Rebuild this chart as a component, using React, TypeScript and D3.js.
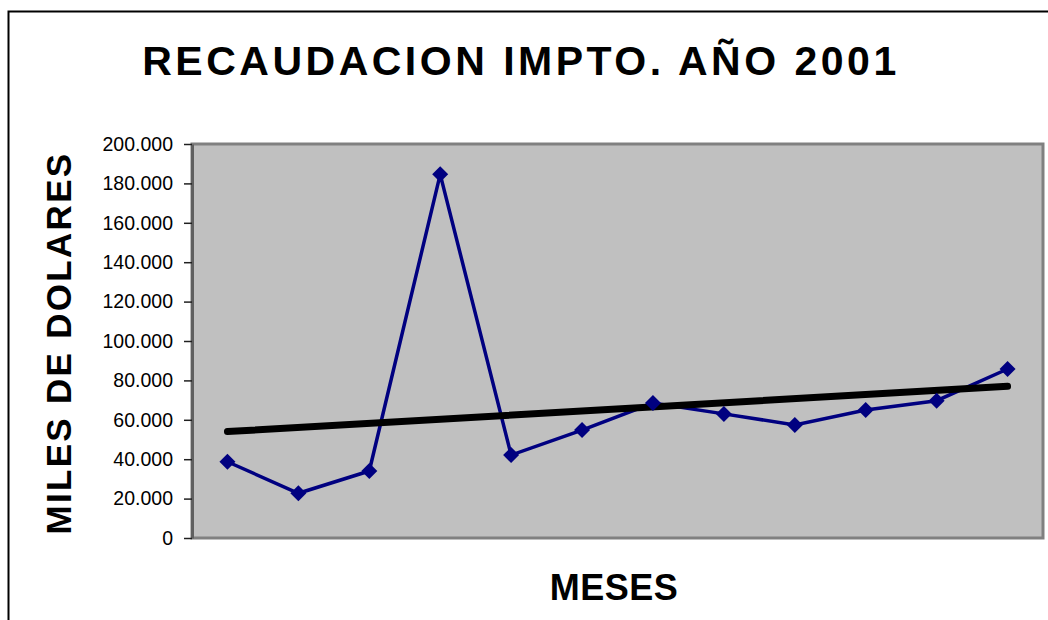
import React, { useRef, useEffect } from 'react';
import * as d3 from 'd3';

const months = ['1', '2', '3', '4', '5', '6', '7', '8', '9', '10', '11', '12'];
const recaudacion = [38700, 22700, 34000, 184600, 42100, 54800, 68500, 63000, 57400, 65000, 69700, 85800];
const yTicks = [0, 20000, 40000, 60000, 80000, 100000, 120000, 140000, 160000, 180000, 200000];

const W = 1048;
const H = 620;
const plot = { left: 192, top: 144, right: 1043, bottom: 538 };

const App = () => {
    const ref = useRef<SVGSVGElement>(null);

    useEffect(() => {
        const svg = d3.select(ref.current);
        svg.selectAll('*').remove();

        const x = d3.scaleBand().domain(months).range([plot.left, plot.right]);
        const y = d3.scaleLinear().domain([0, 200000]).range([plot.bottom, plot.top]);
        const cx = (i: number) => (x(months[i]) as number) + x.bandwidth() / 2;

        // outer chart border
        svg.append('rect')
            .attr('x', 8.5).attr('y', 11.5)
            .attr('width', W).attr('height', H)
            .attr('fill', 'white').attr('stroke', 'black').attr('stroke-width', 2);

        // plot area
        svg.append('rect')
            .attr('x', plot.left).attr('y', plot.top)
            .attr('width', plot.right - plot.left).attr('height', plot.bottom - plot.top)
            .attr('fill', '#c0c0c0').attr('stroke', '#808080').attr('stroke-width', 3);

        // y axis
        const fmt = (v: number) => v === 0 ? '0' : d3.format(',')(v).replace(/,/g, '.');
        const yAxis = svg.append('g')
            .attr('transform', `translate(${plot.left},0)`)
            .call(d3.axisLeft(y).tickValues(yTicks).tickSize(8).tickSizeOuter(0).tickPadding(11).tickFormat(fmt as any));
        yAxis.select('.domain').attr('stroke', '#606060').attr('stroke-width', 3);
        yAxis.selectAll('.tick line').attr('stroke', '#202020').attr('stroke-width', 1.5);
        yAxis.selectAll('.tick text')
            .attr('font-family', '"Liberation Sans", Arial, sans-serif')
            .attr('font-size', 19.5).attr('fill', 'black');

        // series line
        const line = d3.line<number>().x((d, i) => cx(i)).y(d => y(d));
        svg.append('path')
            .datum(recaudacion)
            .attr('fill', 'none').attr('stroke', '#000080').attr('stroke-width', 3.5)
            .attr('d', line);

        // linear trend line
        const n = recaudacion.length;
        const xs = recaudacion.map((_, i) => i + 1);
        const mx = d3.mean(xs) as number;
        const my = d3.mean(recaudacion) as number;
        const slope = d3.sum(xs, (v, i) => (v - mx) * (recaudacion[i] - my)) / d3.sum(xs, v => (v - mx) ** 2);
        const icpt = my - slope * mx;
        svg.append('line')
            .attr('x1', cx(0)).attr('y1', y(icpt + slope * 1))
            .attr('x2', cx(n - 1)).attr('y2', y(icpt + slope * n))
            .attr('stroke', 'black').attr('stroke-width', 7).attr('stroke-linecap', 'round');

        // markers
        const diamond = d3.symbol().type(d3.symbolSquare).size(128);
        svg.selectAll('.pt')
            .data(recaudacion)
            .join('path')
            .attr('d', diamond)
            .attr('transform', (d, i) => `translate(${cx(i)},${y(d)}) rotate(45)`)
            .attr('fill', '#000080');

        const font = '"Liberation Sans", Arial, sans-serif';
        svg.append('text')
            .attr('x', 521).attr('y', 75)
            .attr('text-anchor', 'middle')
            .attr('font-family', font).attr('font-weight', 'bold')
            .attr('font-size', 41).attr('letter-spacing', 3.5)
            .text('RECAUDACION IMPTO. AÑO 2001');

        svg.append('text')
            .attr('transform', `translate(71,343) rotate(-90)`)
            .attr('text-anchor', 'middle')
            .attr('font-family', font).attr('font-weight', 'bold')
            .attr('font-size', 35).attr('letter-spacing', 2.3)
            .text('MILES DE DOLARES');

        svg.append('text')
            .attr('x', 614).attr('y', 600)
            .attr('text-anchor', 'middle')
            .attr('font-family', font).attr('font-weight', 'bold')
            .attr('font-size', 36).attr('letter-spacing', 0.5)
            .text('MESES');
    }, []);

    return <svg ref={ref} width={W} height={H} style={{ position: 'absolute', left: 0, top: 0 }}></svg>;
};

export default App;
